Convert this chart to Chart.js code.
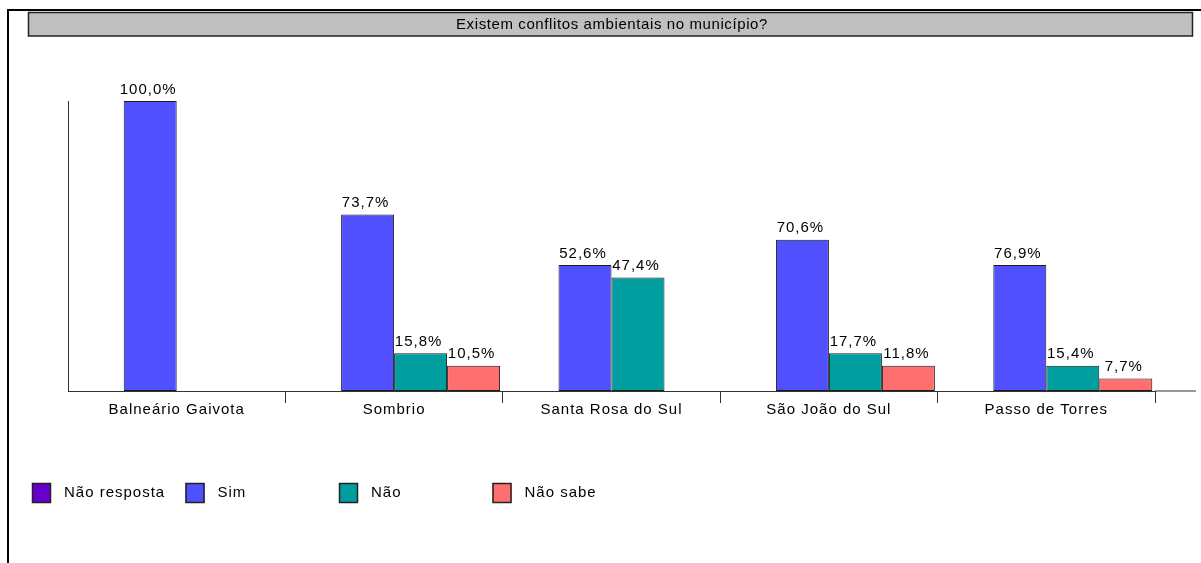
<!DOCTYPE html>
<html>
<head>
<meta charset="utf-8">
<script src="https://cdn.jsdelivr.net/npm/chart.js@4"></script>
<style>
    body { margin: 0; background: #fff; }
    canvas { display: block; }
</style>
</head>
<body>
<canvas id="myChart" width="1201" height="563"></canvas>
<script>
// categories and values (bar heights are answer counts, labels are the percentages)
const chartTitle = "Existem conflitos ambientais no município?";
const municipios = ["Balneário Gaivota", "Sombrio", "Santa Rosa do Sul", "São João do Sul", "Passo de Torres"];
const seriesNames = ["Não resposta", "Sim", "Não", "Não sabe"];

const naoRespostaQtd = [0, 0, 0, 0, 0];
const simQtd = [23, 14, 10, 12, 10];
const naoQtd = [0, 3, 9, 3, 2];
const naoSabeQtd = [0, 2, 0, 2, 1];

const naoRespostaPct = ["", "", "", "", ""];
const simPct = ["100,0%", "73,7%", "52,6%", "70,6%", "76,9%"];
const naoPct = ["", "15,8%", "47,4%", "17,7%", "15,4%"];
const naoSabePct = ["", "10,5%", "", "11,8%", "7,7%"];

const seriesColors = ["rgb(102,0,204)", "rgb(80,80,255)", "rgb(0,158,158)", "rgb(255,111,111)"];
const yMax = 23;

const FONT = "'Liberation Sans', Arial, sans-serif";

// frame + grey title box
const frameTitle = {
    id: "frameTitle",
    beforeDraw(chart) {
        const c = chart.ctx;
        c.save();
        c.fillStyle = "#fff";
        c.fillRect(0, 0, chart.width, chart.height);
        c.fillStyle = "#000";
        c.fillRect(7, 9, 2, chart.height - 9);
        c.fillRect(7, 9, chart.width - 7, 2);
        c.fillStyle = "#c0c0c0";
        c.fillRect(28, 12, 1165, 24);
        c.strokeStyle = "#222";
        c.lineWidth = 1.5;
        c.strokeRect(28.5, 12.5, 1164, 23.5);
        c.fillStyle = "#000";
        c.font = "15px " + FONT;
        c.letterSpacing = "0.6px";
        c.textAlign = "center";
        c.textBaseline = "middle";
        c.fillText(chartTitle, 612, 25);
        c.restore();
        // the tick labels are spaced a bit wider too
        c.letterSpacing = "1px";
    }
};

// value labels on top of each bar
const barLabels = {
    id: "barLabels",
    afterDatasetsDraw(chart) {
        const c = chart.ctx;
        c.save();
        c.fillStyle = "#000";
        c.font = "15px " + FONT;
        c.letterSpacing = "1px";
        c.textAlign = "center";
        c.textBaseline = "bottom";
        chart.data.datasets.forEach((ds, i) => {
            const meta = chart.getDatasetMeta(i);
            meta.data.forEach((bar, j) => {
                if (!ds.data[j]) return;
                c.fillText(ds.pctLabels[j], bar.x - 2, bar.y - 4);
            });
        });
        // x axis line continues past the last category
        const a = chart.chartArea;
        c.fillStyle = "#333";
        c.fillRect(a.right, a.bottom - 0.5, 1196 - a.right, 1);
        c.restore();
    }
};

// legend row under the plot
const legendRow = {
    id: "legendRow",
    afterDraw(chart) {
        const c = chart.ctx;
        c.save();
        c.font = "15px " + FONT;
        c.letterSpacing = "1px";
        c.textBaseline = "middle";
        chart.data.datasets.forEach((ds, i) => {
            const x = 32 + i * 153.5;
            c.fillStyle = ds.backgroundColor;
            c.fillRect(x, 483, 19, 20);
            c.strokeStyle = "#222";
            c.lineWidth = 1.5;
            c.strokeRect(x + 0.5, 483.5, 18, 19);
            c.fillStyle = "#000";
            c.fillText(ds.label, x + 32, 493);
        });
        c.restore();
    }
};

const ctx = document.getElementById("myChart");
const allQtd = [naoRespostaQtd, simQtd, naoQtd, naoSabeQtd];
const allPct = [naoRespostaPct, simPct, naoPct, naoSabePct];

new Chart(ctx, {
    type: "bar",
    data: {
        labels: municipios,
        datasets: seriesNames.map((name, i) => ({
            label: name,
            data: allQtd[i],
            pctLabels: allPct[i],
            backgroundColor: seriesColors[i],
            borderColor: "#1a1a1a",
            borderWidth: 1,
            borderSkipped: false,
            categoryPercentage: 0.975,
            barPercentage: 1.0
        }))
    },
    options: {
        responsive: false,
        animation: false,
        layout: { padding: { left: 68, top: 101, right: 46, bottom: 132 } },
        plugins: {
            legend: { display: false },
            tooltip: { enabled: false },
            title: { display: false }
        },
        scales: {
            x: {
                afterFit: (scale) => { scale.height = 40; },
                grid: {
                    offset: true,
                    drawOnChartArea: false,
                    tickLength: 12,
                    color: (c) => c.index === 0 ? "transparent" : "#333"
                },
                border: { display: true, color: "#333", width: 1 },
                ticks: {
                    color: "#000",
                    padding: -2,
                    font: { family: FONT, size: 15 }
                }
            },
            y: {
                min: 0,
                max: yMax,
                afterFit: (scale) => { scale.width = 0; },
                grid: { display: false },
                border: { display: true, color: "#333", width: 1 },
                ticks: { display: false }
            }
        }
    },
    plugins: [frameTitle, barLabels, legendRow]
});
</script>
</body>
</html>
